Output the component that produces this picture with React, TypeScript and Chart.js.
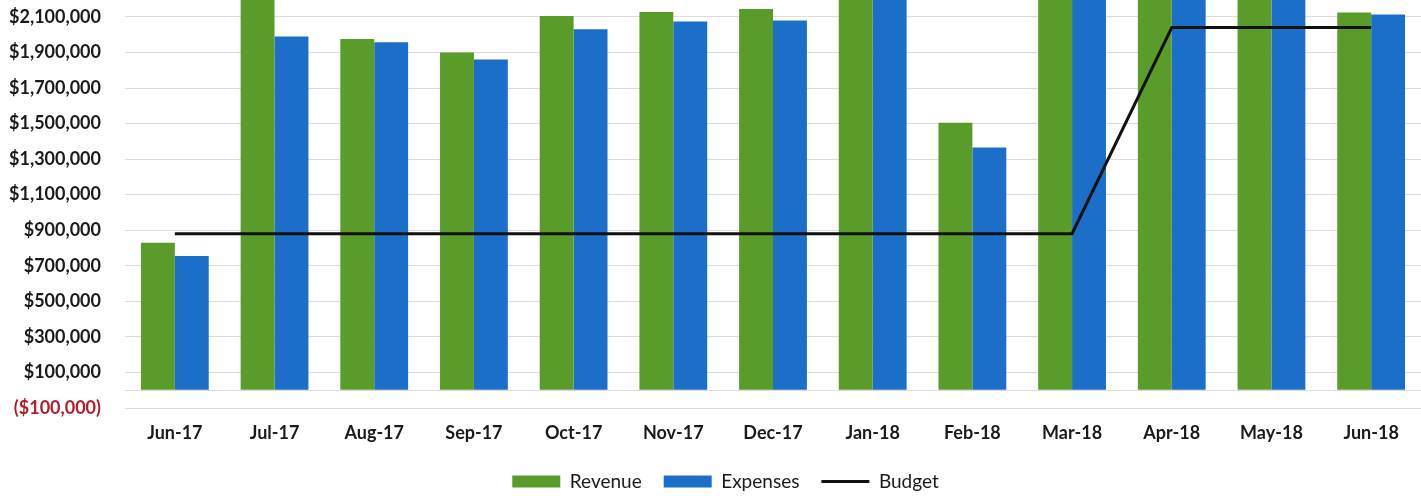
import React, { useEffect, useRef } from 'react';
import { Chart, registerables } from 'chart.js';

Chart.register(...registerables);

const categories = ['Jun-17', 'Jul-17', 'Aug-17', 'Sep-17', 'Oct-17', 'Nov-17', 'Dec-17', 'Jan-18', 'Feb-18', 'Mar-18', 'Apr-18', 'May-18', 'Jun-18'];
const revenue = [830000, 2250000, 1975000, 1900000, 2105000, 2127000, 2145000, 2400000, 1505000, 2400000, 2400000, 2400000, 2125000];
const expenses = [755000, 1990000, 1958000, 1860000, 2030000, 2074000, 2080000, 2350000, 1365000, 2350000, 2350000, 2350000, 2113000];
const budget = [880000, 880000, 880000, 880000, 880000, 880000, 880000, 880000, 880000, 880000, 2040000, 2040000, 2040000];
const yTicks = [-100000, 0, 100000, 300000, 500000, 700000, 900000, 1100000, 1300000, 1500000, 1700000, 1900000, 2100000];

const fmt = (v: number) => {
  if (v === 0) return '';
  const s = '$' + Math.abs(v).toLocaleString('en-US');
  return v < 0 ? '(' + s + ')' : s;
};

const LEGEND_SHIFT = 15;

const legendPlugin = {
  id: 'legendTweak',
  beforeUpdate(chart: any) {
    const lg = chart.legend;
    if (lg && !lg.__patched) {
      const origFit = lg.fit;
      lg.fit = function () {
        origFit.call(this);
        this.height = 46;
      };
      const origDraw = lg.draw;
      lg.draw = function () {
        this.left += LEGEND_SHIFT;
        this.right += LEGEND_SHIFT;
        origDraw.call(this);
        this.left -= LEGEND_SHIFT;
        this.right -= LEGEND_SHIFT;
      };
      lg.__patched = true;
    }
  },
};

export default function App() {
  const ref = useRef<HTMLCanvasElement | null>(null);
  useEffect(() => {
    document.body.style.margin = '0';
    if (!ref.current) return;
    const chart = new Chart(ref.current, {
      type: 'bar',
      data: {
        labels: categories,
        datasets: [
          {
            label: 'Revenue',
            data: revenue,
            backgroundColor: '#5a9c2a',
            borderWidth: 0,
            pointStyle: 'rect',
            categoryPercentage: 0.68,
            barPercentage: 1,
            order: 1,
          },
          {
            label: 'Expenses',
            data: expenses,
            backgroundColor: '#1c6fc8',
            borderWidth: 0,
            pointStyle: 'rect',
            categoryPercentage: 0.68,
            barPercentage: 1,
            order: 1,
          },
          {
            type: 'line',
            label: 'Budget',
            data: budget,
            borderColor: '#111111',
            backgroundColor: '#111111',
            borderWidth: 3,
            pointRadius: 0,
            pointStyle: 'line',
            tension: 0,
            order: 0,
          } as any,
        ],
      },
      options: {
        responsive: false,
        animation: false,
        layout: { padding: { top: 0, left: 0, right: 0, bottom: 0 } },
        scales: {
          x: {
            grid: { display: false, drawTicks: false },
            border: { display: false },
            afterFit: (scale: any) => {
              scale.height = 42;
            },
            ticks: {
              color: '#1a1a1a',
              font: { family: 'Lato', size: 18, weight: 'bold' },
              padding: 14,
            },
          },
          y: {
            min: -100000,
            max: 2195000,
            afterBuildTicks: (scale: any) => {
              scale.ticks = yTicks.map((v) => ({ value: v }));
            },
            afterFit: (scale: any) => {
              scale.width = 125;
              scale.paddingTop = 0;
              scale.paddingBottom = 0;
            },
            grid: { color: '#dcdcdc', drawTicks: false, lineWidth: 1 },
            border: { display: false },
            ticks: {
              padding: 24,
              color: (ctx: any) => (ctx.tick && ctx.tick.value < 0 ? '#b0202a' : '#1a1a1a'),
              font: { family: 'Lato', size: 18, weight: 'bold' },
              callback: (v: any) => fmt(Number(v)),
            },
          },
        },
        plugins: {
          tooltip: { enabled: false },
          legend: {
            position: 'bottom',
            labels: {
              usePointStyle: true,
              pointStyleWidth: 48,
              boxHeight: 12,
              padding: 22,
              color: '#1a1a1a',
              font: { family: 'Lato', size: 19 },
              sort: (a: any, b: any) => a.datasetIndex - b.datasetIndex,
            },
          },
        },
      },
      plugins: [legendPlugin],
    });
    return () => chart.destroy();
  }, []);
  return (
    <div style={{ width: 1421, height: 496 }}>
      <canvas ref={ref} width={1421} height={496} />
    </div>
  );
}
